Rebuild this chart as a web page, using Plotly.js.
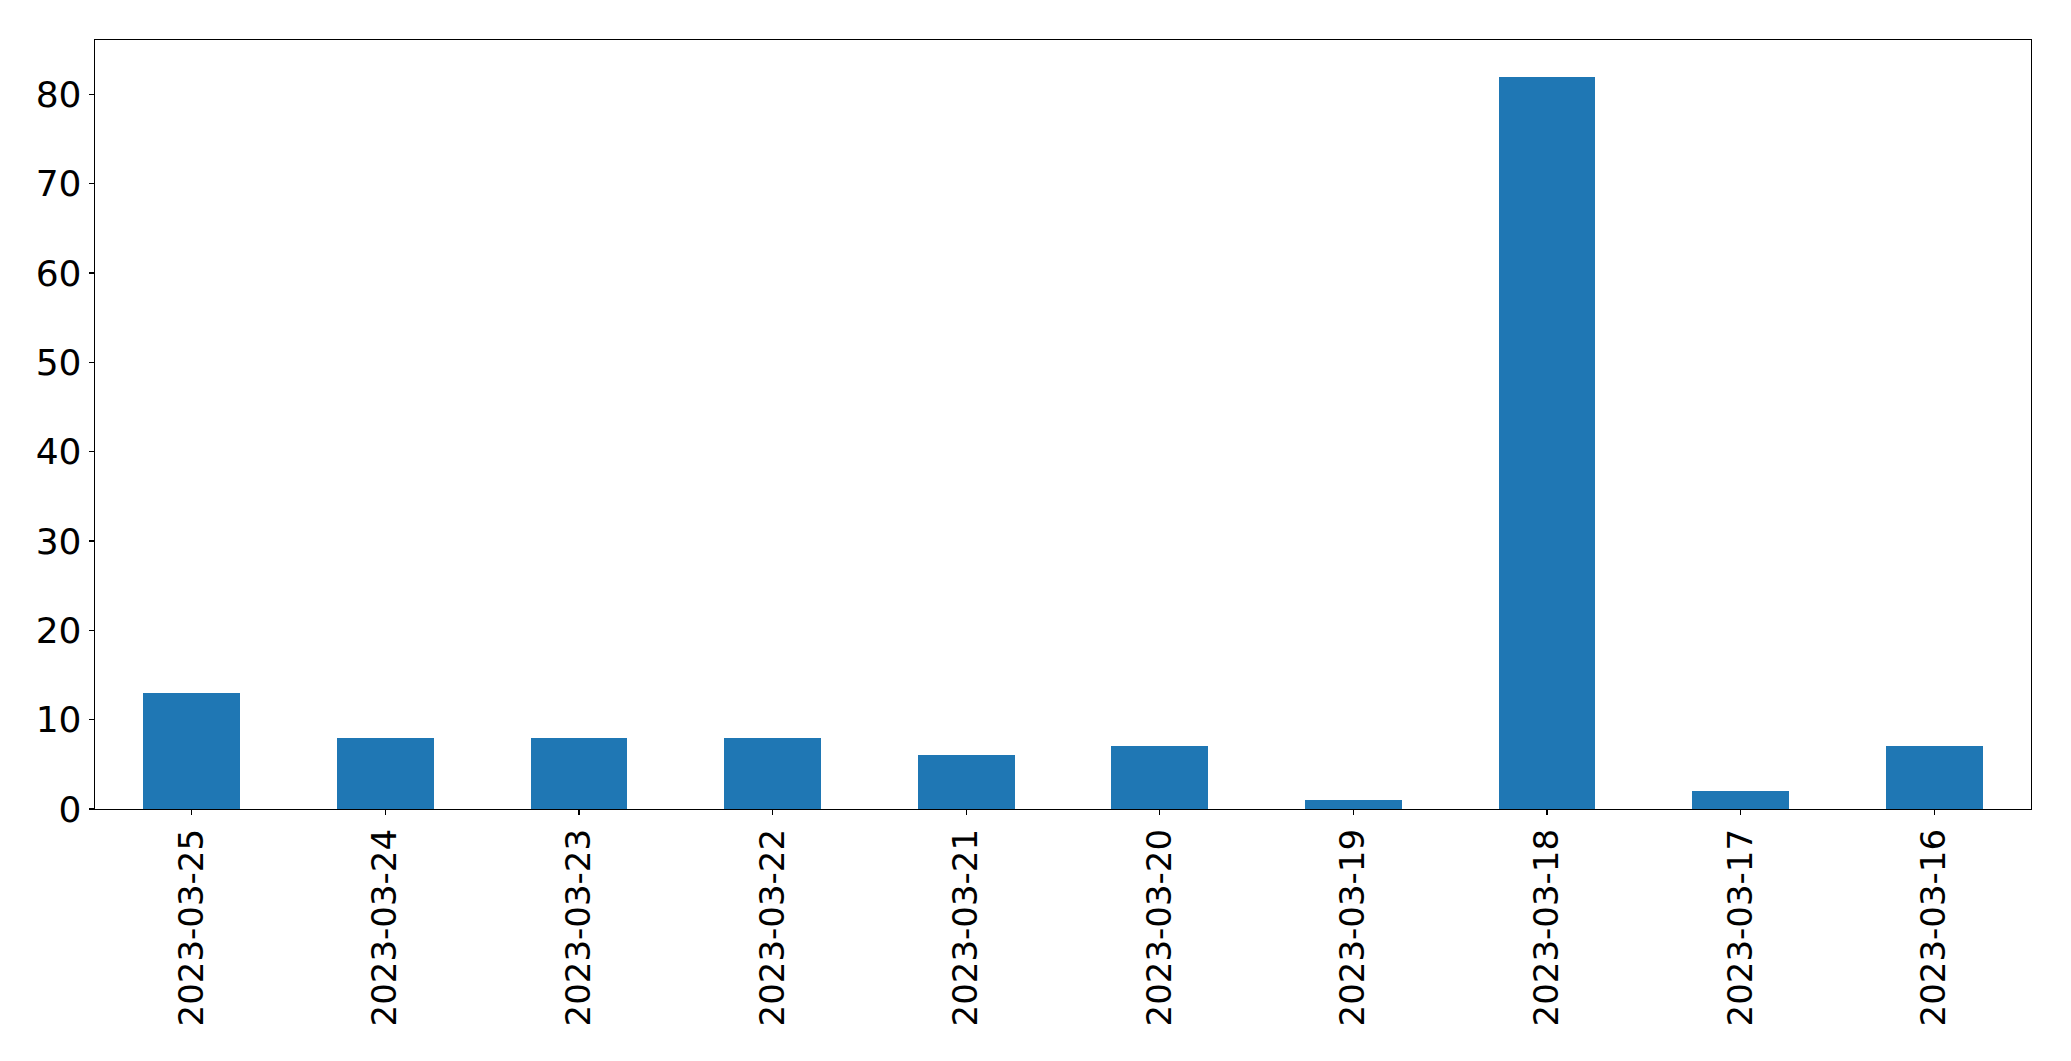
<!DOCTYPE html>
<html>
<head>
<meta charset="utf-8">
<script src="https://cdn.plot.ly/plotly-3.0.1.min.js"></script>
<style>html,body{margin:0;padding:0;background:#fff;}#chart{width:2071px;height:1061px;}</style>
</head>
<body>
<div id="chart"></div>
<script>
const dates = ["2023-03-25","2023-03-24","2023-03-23","2023-03-22","2023-03-21","2023-03-20","2023-03-19","2023-03-18","2023-03-17","2023-03-16"];
const counts = [13, 8, 8, 8, 6, 7, 1, 82, 2, 7];
const yTicks = [0, 10, 20, 30, 40, 50, 60, 70, 80];

const trace = {
  type: "bar",
  x: dates,
  y: counts,
  width: 0.5,
  marker: {color: "#1f77b4", line: {width: 0}},
  hoverinfo: "x+y"
};

const layout = {
  width: 2071,
  height: 1061,
  margin: {l: 94.5, r: 39.5, t: 39.5, b: 252, pad: 0},
  paper_bgcolor: "#ffffff",
  plot_bgcolor: "#ffffff",
  font: {family: "DejaVu Sans, sans-serif", size: 34, color: "#000000"},
  showlegend: false,
  bargap: 0,
  xaxis: {
    type: "category",
    range: [-0.5, 9.5],
    tickangle: -90,
    showgrid: false,
    zeroline: false,
    showline: true,
    linecolor: "#000000",
    linewidth: 1.3,
    mirror: true,
    ticks: "outside",
    ticklen: 5,
    tickwidth: 1.3,
    tickcolor: "#000000",
    ticklabelstandoff: 0,
    tickfont: {size: 34, color: "#000000"}
  },
  yaxis: {
    range: [0, 86.1],
    tickvals: yTicks,
    ticktext: yTicks.map(String),
    showgrid: false,
    zeroline: false,
    showline: true,
    linecolor: "#000000",
    linewidth: 1.3,
    mirror: true,
    ticks: "outside",
    ticklen: 5,
    tickwidth: 1.3,
    tickcolor: "#000000",
    ticklabelstandoff: 0,
    tickfont: {size: 36, color: "#000000"}
  }
};

Plotly.newPlot("chart", [trace], layout, {displayModeBar: false, staticPlot: true});
</script>
</body>
</html>
